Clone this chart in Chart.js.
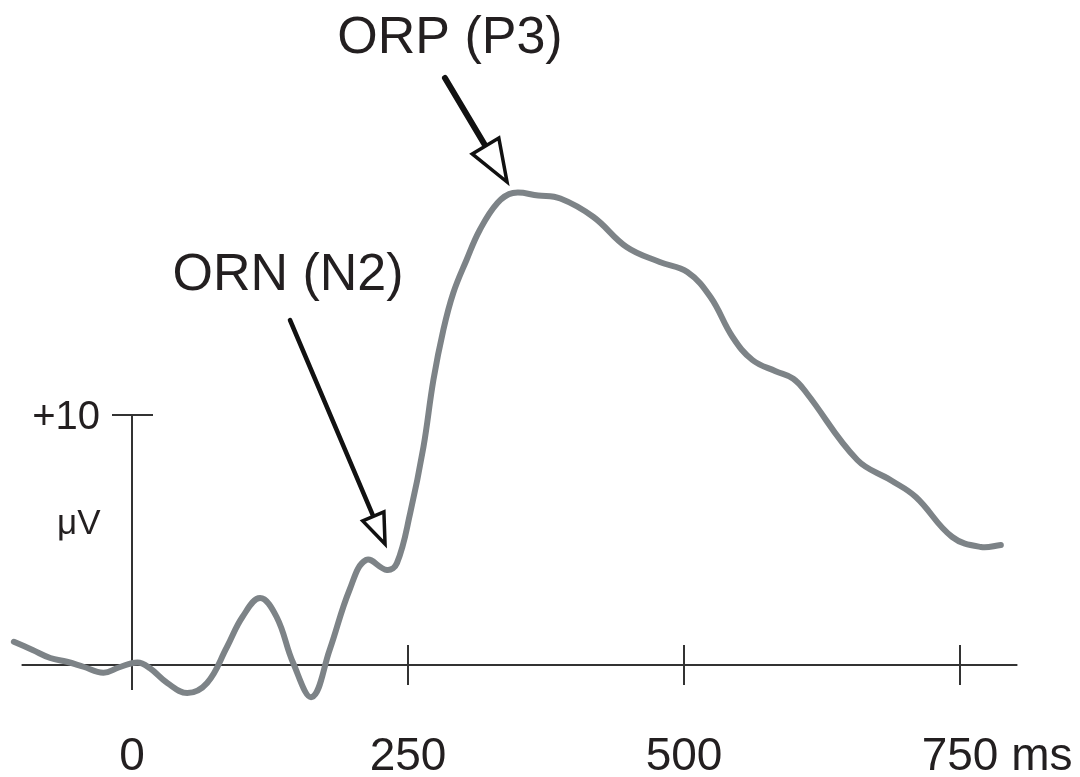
<!DOCTYPE html>
<html>
<head>
<meta charset="utf-8">
<script src="https://cdn.jsdelivr.net/npm/chart.js@4/dist/chart.umd.min.js"></script>
<style>
  html, body { margin: 0; padding: 0; background: #fff; }
  canvas { display: block; }
</style>
</head>
<body>
<canvas id="erp" width="1080" height="777"></canvas>
<script>
// tempo (ms) e ampiezza (µV)
var timesMs = [-107, -90, -74, -59, -44, -26, -12, 5, 16, 32, 50, 68, 86, 100, 116, 131, 146, 163, 179, 197, 212, 231, 240, 252, 264, 273, 282, 291, 303, 315, 331, 345, 368, 388, 418, 448, 478, 503, 524, 544, 562, 583, 599, 611, 657, 687, 710, 743, 769, 787];
var ampUv   = [0.93, 0.6, 0.28, 0.13, -0.07, -0.31, -0.1, 0.1, -0.12, -0.72, -1.12, -0.72, 0.72, 1.92, 2.68, 1.92, 0.08, -1.28, 0.6, 3.0, 4.2, 3.8, 4.08, 6.08, 8.72, 11.4, 13.4, 14.88, 16.2, 17.4, 18.48, 18.88, 18.78, 18.66, 17.92, 16.72, 16.12, 15.72, 14.72, 13.12, 12.2, 11.75, 11.45, 10.88, 8.2, 7.4, 6.72, 5.12, 4.72, 4.8];

var xTicks = [0, 250, 500, 750];
var xTickLabels = ['0', '250', '500', '750 ms'];
var yTicks = [10];
var yTickLabels = ['+10'];
var yUnit = 'μV';

// annotazioni: etichetta, posizione testo, coda e punta della freccia (ms, µV)
var annLabels = ['ORP (P3)', 'ORN (N2)'];
var annText = [[288, 24.48], [141.3, 15.0]];
var annTail = [[283.5, 23.48], [143.1, 13.8]];
var annTip = [[339.7, 19.32], [229.2, 4.84]];

var FONT = 'Arial, "Liberation Sans", sans-serif';

function arrow(ctx, x1, y1, x2, y2, shaftW, headLen, headW) {
    var dx = x2 - x1, dy = y2 - y1;
    var len = Math.sqrt(dx * dx + dy * dy);
    var ux = dx / len, uy = dy / len;
    var bx = x2 - ux * headLen, by = y2 - uy * headLen;
    ctx.save();
    ctx.strokeStyle = '#111';
    ctx.lineCap = 'round';
    ctx.lineWidth = shaftW;
    ctx.beginPath();
    ctx.moveTo(x1, y1);
    ctx.lineTo(bx, by);
    ctx.stroke();
    ctx.lineJoin = 'miter';
    ctx.lineWidth = 3.5;
    ctx.fillStyle = '#fff';
    ctx.beginPath();
    ctx.moveTo(x2, y2);
    ctx.lineTo(bx - uy * headW / 2, by + ux * headW / 2);
    ctx.lineTo(bx + uy * headW / 2, by - ux * headW / 2);
    ctx.closePath();
    ctx.fill();
    ctx.stroke();
    ctx.restore();
}

var axesPlugin = {
    id: 'erpAxes',
    beforeDatasetsDraw: function (chart) {
        var ctx = chart.ctx, xs = chart.scales.x, ys = chart.scales.y;
        var x0 = xs.getPixelForValue(0), y0 = ys.getPixelForValue(0);
        ctx.save();
        ctx.strokeStyle = '#333';
        ctx.lineWidth = 2;
        ctx.beginPath();
        ctx.moveTo(xs.getPixelForValue(-100), y0);
        ctx.lineTo(xs.getPixelForValue(802), y0);
        ctx.moveTo(x0, ys.getPixelForValue(yTicks[0]));
        ctx.lineTo(x0, y0 + 25);
        yTicks.forEach(function (v) {
            var py = ys.getPixelForValue(v);
            ctx.moveTo(x0 - 20, py);
            ctx.lineTo(x0 + 21, py);
        });
        xTicks.forEach(function (v) {
            if (v === 0) return;
            var px = xs.getPixelForValue(v);
            ctx.moveTo(px, y0 - 20);
            ctx.lineTo(px, y0 + 20);
        });
        ctx.stroke();

        ctx.fillStyle = '#231f20';
        ctx.textBaseline = 'alphabetic';
        ctx.font = '46px ' + FONT;
        xTicks.forEach(function (v, i) {
            var px = xs.getPixelForValue(v);
            var num = String(v);
            var w = ctx.measureText(num).width;
            ctx.textAlign = 'left';
            ctx.fillText(xTickLabels[i], px - w / 2, 770);
        });
        ctx.font = '40px ' + FONT;
        ctx.textAlign = 'right';
        yTicks.forEach(function (v, i) {
            ctx.fillText(yTickLabels[i], x0 - 32, ys.getPixelForValue(v) + 14);
        });
        ctx.font = '35px ' + FONT;
        ctx.textAlign = 'left';
        ctx.fillText(yUnit, 57, ys.getPixelForValue(5.24));
        ctx.restore();
    },
    afterDatasetsDraw: function (chart) {
        var ctx = chart.ctx, xs = chart.scales.x, ys = chart.scales.y;
        ctx.save();
        ctx.fillStyle = '#231f20';
        ctx.font = '52px ' + FONT;
        ctx.textAlign = 'center';
        ctx.textBaseline = 'alphabetic';
        annLabels.forEach(function (t, i) {
            ctx.fillText(t, xs.getPixelForValue(annText[i][0]), ys.getPixelForValue(annText[i][1]));
        });
        var sizes = [[6, 42, 31], [4.5, 30, 23]];
        annLabels.forEach(function (t, i) {
            arrow(ctx,
                xs.getPixelForValue(annTail[i][0]), ys.getPixelForValue(annTail[i][1]),
                xs.getPixelForValue(annTip[i][0]), ys.getPixelForValue(annTip[i][1]),
                sizes[i][0], sizes[i][1], sizes[i][2]);
        });
        ctx.restore();
    }
};

new Chart(document.getElementById('erp'), {
    type: 'line',
    data: {
        datasets: [{
            data: timesMs.map(function (t, i) { return { x: t, y: ampUv[i] }; }),
            borderColor: '#7d8387',
            borderWidth: 6,
            pointRadius: 0,
            tension: 0.4,
            fill: false,
            borderCapStyle: 'round',
            borderJoinStyle: 'round'
        }]
    },
    options: {
        responsive: false,
        animation: false,
        layout: { padding: 0 },
        scales: {
            x: { type: 'linear', min: -132 / 1.104, max: 948 / 1.104, display: false },
            y: { type: 'linear', min: -112 / 25, max: 665 / 25, display: false }
        },
        plugins: { legend: { display: false }, tooltip: { enabled: false } }
    },
    plugins: [axesPlugin]
});
</script>
</body>
</html>
